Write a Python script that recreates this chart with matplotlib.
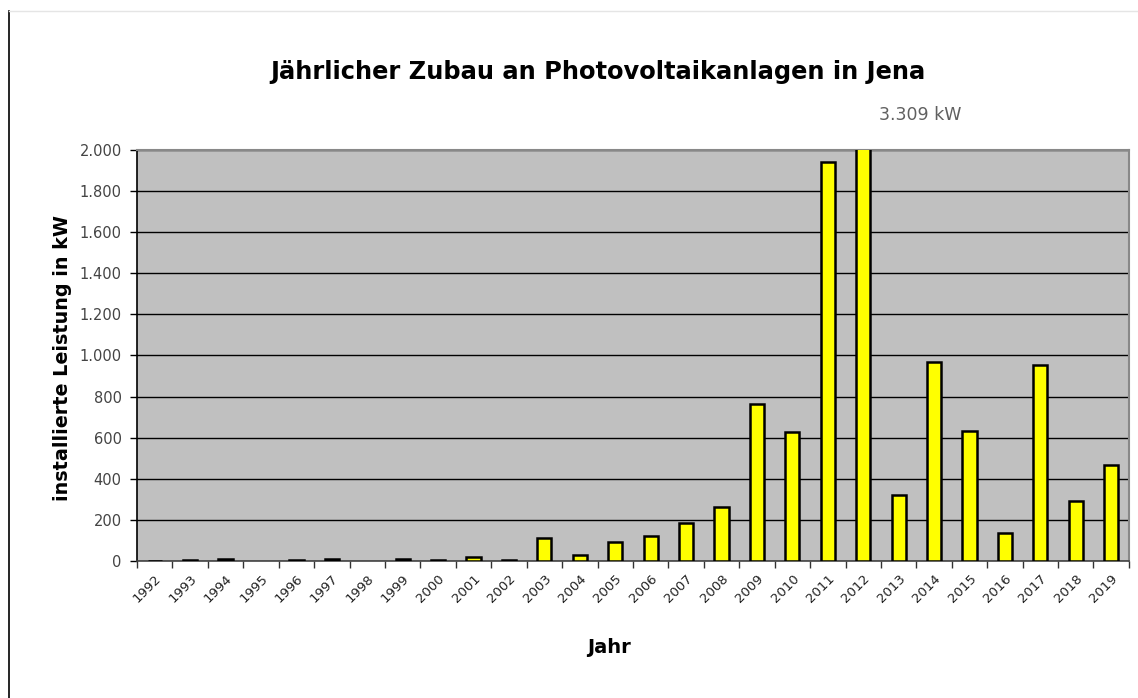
import matplotlib.pyplot as plt
import matplotlib.ticker as mticker
from matplotlib.lines import Line2D
import numpy as np

years = [str(y) for y in range(1992, 2020)]
leistung_kw = [2, 6, 12, 0, 3, 12, 0, 12, 6, 18, 3, 110, 29, 91, 122, 186, 263,
               762, 629, 1943, 3309, 320, 970, 634, 136, 955, 292, 466]

fig = plt.figure(figsize=(11.38, 6.98), dpi=100)
ax = fig.add_axes([0.1204, 0.1963, 0.8716, 0.5888])
ax.set_facecolor('#C0C0C0')

x = np.arange(len(years))
edges = ['black' if v > 0 else 'none' for v in leistung_kw]
ax.bar(x, leistung_kw, width=0.4, color='#FFFF00', edgecolor=edges, linewidth=1.8, zorder=3)

ax.set_ylim(0, 2000)
ax.set_xlim(-0.5, len(years) - 0.5)
ax.yaxis.set_major_locator(mticker.MultipleLocator(200))
ax.yaxis.set_major_formatter(mticker.FuncFormatter(lambda v, p: f'{int(v):,}'.replace(',', '.')))
ax.grid(True, axis='y', color='black', linewidth=1.0, zorder=1)
ax.set_axisbelow(True)

ax.set_xticks(x)
ax.set_xticklabels(years, rotation=45, ha='right', rotation_mode='anchor', fontsize=9.5, color='#222222')
ax.set_xticks(np.arange(-0.5, len(years)), minor=True)
ax.tick_params(axis='x', which='major', length=0, pad=8)
ax.tick_params(axis='x', which='minor', length=5, width=1, color='#333333')
ax.tick_params(axis='y', length=5, width=1, labelsize=10.5, labelcolor='#444444', pad=6)

for s in ['top', 'right']:
    ax.spines[s].set_color('#888888')
    ax.spines[s].set_linewidth(1.5)
ax.spines['left'].set_color('black')
ax.spines['left'].set_linewidth(1.2)
ax.spines['bottom'].set_color('#444444')
ax.spines['bottom'].set_linewidth(1.2)

fig.text(0.5255, 0.897, 'Jährlicher Zubau an Photovoltaikanlagen in Jena', ha='center', va='center',
         fontsize=17.4, fontweight='bold')
fig.text(0.809, 0.835, '3.309 kW', ha='center', va='center', fontsize=12.5, color='#606060')
fig.text(0.055, 0.487, 'installierte Leistung in kW', rotation=90, ha='center', va='center',
         fontsize=13.8, fontweight='bold')
fig.text(0.535, 0.073, 'Jahr', ha='center', va='center', fontsize=14, fontweight='bold')

fig.add_artist(Line2D([0.0079, 0.0079], [0.0, 0.984], color='black', linewidth=1.2))
fig.add_artist(Line2D([0.0079, 1.0], [0.984, 0.984], color='#E5E5E5', linewidth=1.0))

fig.savefig('out.png', dpi=100)
